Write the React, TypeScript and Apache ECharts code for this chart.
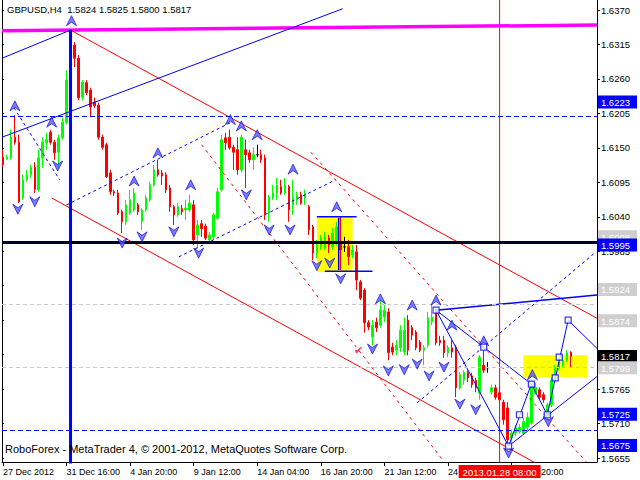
import React, { useEffect, useRef } from "react";
import * as echarts from "echarts";

// ---------- DATA ----------
const opens = [1.6135,1.6132,1.6134,1.6167,1.6159,1.6070,1.6099,1.6107,1.6119,1.6083,1.6134,1.6158,1.6175,1.6159,1.6143,1.6166,1.6191,1.6330,1.6314,1.6293,1.6231,1.6254,1.6242,1.6223,1.6218,1.6167,1.6155,1.6110,1.6080,1.6078,1.6048,1.6032,1.6046,1.6051,1.6059,1.6032,1.6051,1.6067,1.6091,1.6115,1.6110,1.6107,1.6086,1.6056,1.6043,1.6053,1.6051,1.6051,1.6059,1.6011,1.6029,1.6025,1.6003,1.6008,1.6038,1.6083,1.6166,1.6167,1.6151,1.6147,1.6115,1.6147,1.6142,1.6131,1.6139,1.6139,1.6134,1.6046,1.6070,1.6078,1.6088,1.6078,1.6088,1.6059,1.6067,1.6075,1.6070,1.6056,1.6024,1.5982,1.5992,1.5990,1.6006,1.5992,1.5998,1.6000,1.5992,1.5992,1.5979,1.5984,1.5936,1.5923,1.5871,1.5848,1.5872,1.5867,1.5880,1.5888,1.5832,1.5827,1.5831,1.5824,1.5875,1.5863,1.5856,1.5840,1.5827,1.5835,1.5872,1.5891,1.5843,1.5843,1.5823,1.5831,1.5832,1.5767,1.5779,1.5791,1.5786,1.5779,1.5759,1.5803,1.5799,1.5760,1.5767,1.5759,1.5744,1.5735,1.5687,1.5695,1.5697,1.5695,1.5704,1.5711,1.5759,1.5764,1.5756,1.5720,1.5740,1.5779,1.5799,1.5803,1.5811,1.5824];
const closes = [1.6123,1.6135,1.6167,1.6159,1.6064,1.6099,1.6107,1.6119,1.6084,1.6134,1.6159,1.6163,1.6159,1.6142,1.6166,1.6191,1.6258,1.6317,1.6293,1.6230,1.6255,1.6238,1.6215,1.6217,1.6167,1.6151,1.6104,1.6080,1.6078,1.6046,1.6032,1.6059,1.6067,1.6078,1.6048,1.6051,1.6070,1.6091,1.6115,1.6107,1.6105,1.6083,1.6056,1.6043,1.6056,1.6048,1.6054,1.6062,1.6003,1.6027,1.6021,1.6006,1.6011,1.6043,1.6080,1.6163,1.6158,1.6150,1.6143,1.6115,1.6167,1.6139,1.6131,1.6139,1.6139,1.6131,1.6043,1.6072,1.6078,1.6091,1.6078,1.6091,1.6051,1.6072,1.6075,1.6062,1.6078,1.6019,1.5982,1.5995,1.6006,1.6008,1.5995,1.6014,1.6024,1.5987,1.5992,1.5976,1.5987,1.5939,1.5910,1.5871,1.5864,1.5867,1.5863,1.5891,1.5891,1.5823,1.5824,1.5835,1.5859,1.5859,1.5827,1.5851,1.5831,1.5827,1.5831,1.5879,1.5880,1.5839,1.5839,1.5823,1.5831,1.5824,1.5767,1.5788,1.5792,1.5783,1.5772,1.5767,1.5816,1.5795,1.5799,1.5767,1.5752,1.5748,1.5716,1.5684,1.5695,1.5703,1.5704,1.5713,1.5720,1.5767,1.5768,1.5752,1.5748,1.5740,1.5779,1.5800,1.5808,1.5811,1.5823,1.5817];
const lows = [1.6119,1.6131,1.6131,1.6155,1.6062,1.6067,1.6096,1.6102,1.6078,1.6080,1.6118,1.6147,1.6155,1.6131,1.6118,1.6163,1.6188,1.6258,1.6279,1.6226,1.6226,1.6234,1.6199,1.6214,1.6163,1.6147,1.6102,1.6075,1.6073,1.6043,1.6014,1.6027,1.6043,1.6048,1.6043,1.6019,1.6048,1.6064,1.6088,1.6104,1.6091,1.6078,1.6048,1.6027,1.6040,1.6043,1.6035,1.6048,1.5995,1.5990,1.6008,1.6003,1.5998,1.6003,1.6035,1.6080,1.6147,1.6147,1.6115,1.6107,1.6111,1.6086,1.6126,1.6115,1.6135,1.6126,1.6035,1.6032,1.6067,1.6067,1.6075,1.6075,1.6032,1.6043,1.6059,1.6059,1.6059,1.6011,1.5971,1.5974,1.5987,1.5987,1.5982,1.5987,1.5995,1.5955,1.5984,1.5963,1.5974,1.5923,1.5907,1.5855,1.5859,1.5835,1.5856,1.5863,1.5872,1.5811,1.5819,1.5819,1.5824,1.5819,1.5819,1.5843,1.5827,1.5824,1.5803,1.5831,1.5867,1.5835,1.5834,1.5815,1.5816,1.5815,1.5752,1.5764,1.5772,1.5776,1.5767,1.5760,1.5748,1.5791,1.5791,1.5756,1.5748,1.5744,1.5708,1.5676,1.5681,1.5690,1.5694,1.5692,1.5700,1.5708,1.5756,1.5748,1.5743,1.5716,1.5736,1.5776,1.5795,1.5800,1.5808,1.5800];
const highs = [1.6147,1.6139,1.6179,1.6202,1.6171,1.6107,1.6115,1.6123,1.6127,1.6147,1.6167,1.6174,1.6179,1.6163,1.6171,1.6198,1.6274,1.6338,1.6319,1.6298,1.6258,1.6258,1.6246,1.6230,1.6222,1.6171,1.6158,1.6115,1.6083,1.6083,1.6051,1.6067,1.6083,1.6086,1.6062,1.6054,1.6075,1.6096,1.6123,1.6131,1.6115,1.6111,1.6091,1.6059,1.6062,1.6059,1.6067,1.6075,1.6067,1.6035,1.6035,1.6029,1.6016,1.6046,1.6086,1.6171,1.6174,1.6179,1.6155,1.6167,1.6171,1.6163,1.6147,1.6151,1.6155,1.6147,1.6139,1.6075,1.6091,1.6102,1.6099,1.6102,1.6091,1.6099,1.6080,1.6080,1.6083,1.6059,1.6027,1.6003,1.6011,1.6016,1.6011,1.6022,1.6032,1.6040,1.6008,1.6003,1.5995,1.5995,1.5939,1.5926,1.5875,1.5875,1.5879,1.5907,1.5899,1.5894,1.5839,1.5843,1.5867,1.5879,1.5883,1.5867,1.5859,1.5843,1.5835,1.5888,1.5899,1.5894,1.5850,1.5850,1.5835,1.5843,1.5835,1.5792,1.5795,1.5795,1.5791,1.5783,1.5819,1.5827,1.5808,1.5772,1.5772,1.5764,1.5748,1.5744,1.5700,1.5708,1.5709,1.5719,1.5728,1.5772,1.5775,1.5768,1.5760,1.5743,1.5784,1.5803,1.5815,1.5819,1.5827,1.5825];
const dojiBars = [64, 86, 122];

const timeTicks = [0, 16, 32, 48, 64, 80, 96, 112, 128];
const timeLabels = ["27 Dec 2012", "31 Dec 16:00", "4 Jan 20:00", "9 Jan 12:00", "14 Jan 04:00", "16 Jan 20:00", "21 Jan 12:00", "24 Jan 04:00", "28 Jan 20:00"];
const crosshairBar = 125;
const crosshairLabel = "2013.01.28 08:00";

const priceTicks = [1.637, 1.6315, 1.626, 1.6205, 1.615, 1.6095, 1.604, 1.5985, 1.593, 1.5875, 1.582, 1.5765, 1.571, 1.5655];
// labels that stay visible (the others are covered by the price boxes in the reference)
const priceTickLabels = [1.637, 1.6315, 1.626, 1.6205, 1.615, 1.6095, 1.604, 1.5985, 1.5765, 1.571, 1.5655];
const priceMarks = [1.6223, 1.6008, 1.5995, 1.5924, 1.5874, 1.5817, 1.5799, 1.5725, 1.5675];
const priceMarkKinds = ["blue", "grey", "blue", "grey", "grey", "black", "grey", "blue", "blue"];

const blueDashLevels = [1.6223, 1.5725, 1.5675];
const greyDashLevels = [1.6008, 1.5924, 1.5874, 1.5799];
const blackLevel = 1.5995;

const magentaLine = [[-0.25, 1.6337], [149.5, 1.6346]];
const channelTop = [[17, 1.6338], [149.5, 1.5878]];
const channelBottom = [[12.25, 1.607], [135.5, 1.5642]];
const blueRayShort = [[-0.25, 1.6293], [17, 1.6338]];
const blueRayLong = [[-0.25, 1.6167], [85.5, 1.6372]];
const blueDotLeft = [[2.75, 1.6214], [14.25, 1.6099]];
const blueDotUpper = [[16, 1.6059], [57.5, 1.6191]];
const blueDotLower = [[44.25, 1.5976], [83.75, 1.6099]];
const redDash1 = [[50, 1.6155], [111, 1.5649]];
const redDash2 = [[77.5, 1.6143], [146.75, 1.5649]];
const blueDashUp = [[104.25, 1.5743], [149.25, 1.5984]];
const blueVertical = [[17, 1.6338], [17, 1.564]];
const crosshairLine = [[crosshairBar, 1.564], [crosshairBar, 1.6386]];
const boxTopLine = [[79, 1.604], [89, 1.604]];
const boxBottomLine = [[81, 1.5953], [93, 1.5953]];
const boxMidLine = [[84.5, 1.6038], [84.5, 1.5955]];
const yellowBox1 = [[79, 1.604], [88, 1.5952]];
const yellowBox2 = [[131, 1.5819], [147, 1.5784]];
const forecastPath = [[109, 1.5891], [127.25, 1.5674], [133, 1.5773], [137, 1.5724], [142.25, 1.5875], [149.5, 1.583]];
const forecastAnchors = [[109, 1.5891], [121, 1.5832], [127.25, 1.5674], [130, 1.5724], [133, 1.5773], [137, 1.5724], [139, 1.5783], [140, 1.5816], [142.25, 1.5875]];
const wedgeUpper = [[109, 1.5891], [133, 1.5773]];
const wedgeLower = [[127.25, 1.5674], [149.5, 1.5785]];
const resistanceRay = [[109, 1.5891], [149.5, 1.5915]];

const upFractals = [[17.25, 1.6353], [3, 1.6217], [12.25, 1.6191], [33, 1.6097], [39, 1.6142], [47.25, 1.6091], [57.25, 1.6195], [60, 1.6185], [64, 1.6171], [73, 1.6116], [84, 1.6056], [95, 1.5909], [103, 1.5899], [109, 1.5907], [113, 1.5867], [121, 1.5842], [133.25, 1.5788]];
const downFractals = [[13.75, 1.6121], [3.75, 1.6052], [8, 1.6064], [30, 1.5998], [35, 1.6008], [43, 1.6016], [49.25, 1.5982], [61.25, 1.6075], [67, 1.6019], [72.25, 1.6019], [79, 1.5962], [82.25, 1.5966], [85, 1.5941], [93, 1.5829], [97, 1.5794], [101, 1.5796], [104.25, 1.5805], [107.25, 1.5786], [111, 1.58], [115, 1.5741], [119, 1.5732], [127.25, 1.5663], [137.25, 1.5713]];
const checkMark = [[89.5, 1.5827]];

const titleText = "GBPUSD,H4  1.5824 1.5825 1.5800 1.5817";
const copyrightText = "RoboForex - MetaTrader 4, \u00A9 2001-2012, MetaQuotes Software Corp.";

// ---------- CHART ----------
const FONT = "Liberation Sans, Arial, sans-serif";
const Y_MIN = 1.564862;
const Y_MAX = 1.638596;
const X_MIN = -0.25;
const X_MAX = 149.5;

function seg(points: number[][], color: string, width: number, type: any = "solid", z = 4) {
  return {
    type: "line",
    data: points,
    symbol: "none",
    clip: true,
    silent: true,
    z,
    lineStyle: { color, width, type },
  };
}

export default function App() {
  const ref = useRef<HTMLDivElement>(null);
  useEffect(() => {
    if (!ref.current) return;
    const chart = echarts.init(ref.current, null, { renderer: "svg" });

    const candleData = opens.map((o, i) => {
      const v = [i, o, closes[i], lows[i], highs[i]];
      if (dojiBars.includes(i)) {
        return {
          value: v,
          itemStyle: { color: "#000", color0: "#000", borderColor: "#000", borderColor0: "#000", borderColorDoji: "#000" },
        };
      }
      return { value: v };
    });

    const upPath = "path://M5,0 L10,10 L5,6.5 L0,10 Z";
    const downPath = "path://M0,0 L5,3.5 L10,0 L5,10 Z";

    const markKindStyle: Record<string, any> = {
      blue: { backgroundColor: "#0000ff", color: "#ffffff" },
      grey: { backgroundColor: "#cfcfcf", color: "#ffffff" },
      black: { backgroundColor: "#000000", color: "#ffffff" },
    };
    const rich: Record<string, any> = {};
    Object.keys(markKindStyle).forEach((k) => {
      rich[k] = { ...markKindStyle[k], padding: [2, 7, 1, 3], fontSize: 9.5, fontFamily: FONT, lineHeight: 11 };
    });

    const option: any = {
      animation: false,
      backgroundColor: "#ffffff",
      grid: { left: 2, right: 39, top: 0, bottom: 18, containLabel: false },
      xAxis: {
        type: "value",
        min: X_MIN,
        max: X_MAX,
        axisLine: { show: true, lineStyle: { color: "#000", width: 1 } },
        axisTick: { show: true, length: 4, lineStyle: { color: "#000" }, customValues: timeTicks },
        axisLabel: {
          customValues: timeTicks,
          color: "#000",
          fontSize: 9,
          fontFamily: FONT,
          align: "left",
          margin: 5,
          formatter: (v: number) => {
            const k = timeTicks.indexOf(Math.round(v));
            return k >= 0 ? timeLabels[k] : "";
          },
        },
        splitLine: { show: false },
      },
      yAxis: [
        {
          type: "value",
          position: "right",
          min: Y_MIN,
          max: Y_MAX,
          axisLine: { show: true, onZero: false, lineStyle: { color: "#000", width: 1 } },
          axisTick: { show: true, length: 3, lineStyle: { color: "#000" }, customValues: priceTicks },
          axisLabel: {
            customValues: priceTickLabels,
            color: "#000",
            fontSize: 9.5,
            fontFamily: FONT,
            margin: 4,
            formatter: (v: number) => v.toFixed(4),
          },
          splitLine: { show: false },
        },
        {
          type: "value",
          position: "right",
          min: Y_MIN,
          max: Y_MAX,
          axisLine: { show: false },
          axisTick: { show: false },
          splitLine: { show: false },
          axisLabel: {
            customValues: priceMarks,
            margin: 1,
            formatter: (v: number) => {
              const k = priceMarks.findIndex((p) => Math.abs(p - v) < 1e-6);
              const kind = k >= 0 ? priceMarkKinds[k] : "blue";
              return "{" + kind + "|" + v.toFixed(4) + "}";
            },
            rich,
          },
        },
        {
          type: "value",
          position: "left",
          min: Y_MIN,
          max: Y_MAX,
          axisLine: { show: true, onZero: false, lineStyle: { color: "#000", width: 1 } },
          axisTick: { show: true, inside: true, length: 2, lineStyle: { color: "#000" }, customValues: priceTicks },
          axisLabel: { show: false },
          splitLine: { show: false },
        },
      ],
      graphic: [
        { type: "text", left: 7, top: 4, z: 100, style: { text: titleText, fill: "#000", font: "9.5px " + FONT } },
        { type: "text", left: 5, top: 443, z: 100, style: { text: copyrightText, fill: "#000", font: "11px " + FONT } },
      ],
      series: [
        {
          type: "line",
          data: [],
          z: 1,
          silent: true,
          markArea: {
            silent: true,
            itemStyle: { color: "#ffff00", opacity: 1 },
            data: [
              [{ coord: yellowBox1[0] }, { coord: yellowBox1[1] }],
              [{ coord: yellowBox2[0] }, { coord: yellowBox2[1] }],
            ],
          },
        },
        {
          type: "candlestick",
          z: 3,
          silent: true,
          barWidth: 2,
          encode: { x: 0, y: [1, 2, 3, 4] },
          itemStyle: {
            color: "#00ff00",
            color0: "#ff0000",
            borderColor: "#00ff00",
            borderColor0: "#ff0000",
            borderWidth: 1,
          },
          data: candleData,
        },
        {
          type: "line",
          data: [],
          z: 4,
          silent: true,
          markLine: {
            silent: true,
            symbol: ["none", "none"],
            label: { show: false },
            data: [
              ...greyDashLevels.map((v) => ({ yAxis: v, lineStyle: { color: "#c8c8c8", width: 1, type: [4, 3] } })),
              ...blueDashLevels.map((v) => ({ yAxis: v, lineStyle: { color: "#0000ff", width: 1, type: [5, 3] } })),
              { yAxis: blackLevel, lineStyle: { color: "#000022", width: 3, type: "solid" } },
              {
                xAxis: crosshairBar,
                lineStyle: { color: "rgba(255,0,0,0)", width: 0 },
                label: {
                  show: true,
                  position: "start",
                  formatter: crosshairLabel,
                  backgroundColor: "#ff0000",
                  color: "#ffffff",
                  fontSize: 9.5,
                  fontFamily: FONT,
                  padding: [2, 4, 1, 4],
                  distance: 3,
                },
              },
            ],
          },
        },
        seg(crosshairLine, "#ff0000", 1),
        seg(magentaLine, "#ff00ff", 3.5),
        seg(channelTop, "#ff0000", 1),
        seg(channelBottom, "#ff0000", 1),
        seg(redDash1, "#ff0000", 1, [3, 4]),
        seg(redDash2, "#ff0000", 1, [3, 4]),
        seg(blueRayShort, "#0000ff", 1),
        seg(blueRayLong, "#0000ff", 1),
        seg(blueDotLeft, "#0000ff", 1, [3, 3]),
        seg(blueDotUpper, "#0000ff", 1, [3, 3]),
        seg(blueDotLower, "#0000ff", 1, [3, 3]),
        seg(blueDashUp, "#0000ff", 1, [3, 3]),
        seg(blueVertical, "#0000ff", 3),
        seg(boxTopLine, "#0000ff", 1.5),
        seg(boxBottomLine, "#0000ff", 1.5),
        seg(boxMidLine, "#0000ff", 1.5),
        seg(forecastPath, "#0000ff", 1),
        seg(wedgeUpper, "#0000ff", 1),
        seg(wedgeLower, "#0000ff", 1),
        seg(resistanceRay, "#0000ff", 1.5),
        {
          type: "scatter",
          z: 6,
          silent: true,
          symbol: "rect",
          symbolSize: 6,
          itemStyle: { color: "#ffffff", borderColor: "#0000ff", borderWidth: 1.2 },
          data: forecastAnchors,
        },
        {
          type: "scatter",
          z: 5,
          silent: true,
          symbol: upPath,
          symbolSize: [10, 10],
          itemStyle: { color: "#5a5aff", borderColor: "#0000c8", borderWidth: 0.8 },
          data: upFractals,
        },
        {
          type: "scatter",
          z: 5,
          silent: true,
          symbol: downPath,
          symbolSize: [10, 10],
          itemStyle: { color: "#5a5aff", borderColor: "#0000c8", borderWidth: 0.8 },
          data: downFractals,
        },
        {
          type: "scatter",
          z: 5,
          silent: true,
          symbolSize: 1,
          itemStyle: { color: "rgba(0,0,0,0)" },
          label: { show: true, position: "inside", formatter: "\u2714", color: "#ff0000", fontSize: 11, fontFamily: "DejaVu Sans" },
          data: checkMark,
        },
      ],
    };
    chart.setOption(option);
    return () => chart.dispose();
  }, []);
  return (
    <div
      ref={ref}
      style={{ position: "absolute", left: 0, top: 0, width: 640, height: 480, background: "#fff" }}
    />
  );
}
